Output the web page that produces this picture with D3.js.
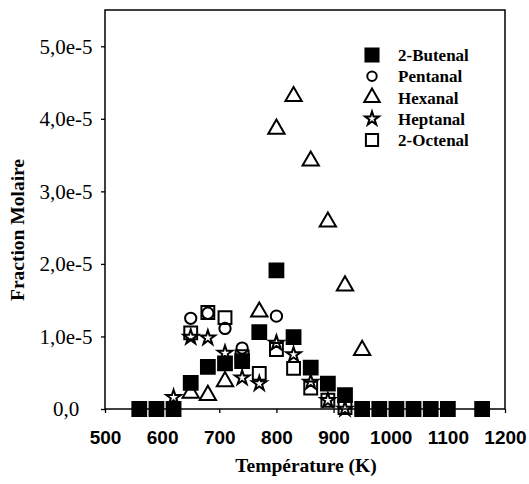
<!DOCTYPE html>
<html><head><meta charset="utf-8">
<script src="https://cdn.jsdelivr.net/npm/d3@7"></script>
<style>body{margin:0;background:#fff}</style>
</head><body>
<svg id="c" width="529" height="484"></svg>
<script>
// Data (mole fraction, x1e-5)
const butenalT = [560,590,620,650,680,710,740,770,800,830,860,890,920,950,980,1010,1040,1070,1100,1160];
const butenalV = [0,0,0,0.36,0.58,0.63,0.66,1.06,1.91,0.99,0.57,0.35,0.19,0,0,0,0,0,0,0];
const pentanalT = [650,680,710,740,800];
const pentanalV = [1.25,1.32,1.11,0.84,1.28];
const hexanalT = [650,680,710,770,800,830,860,890,920,950];
const hexanalV = [0.22,0.19,0.38,1.34,3.86,4.31,3.42,2.58,1.70,0.81];
const heptanalT = [620,650,680,710,740,770,800,830,860,890,920];
const heptanalV = [0.16,0.99,0.98,0.77,0.43,0.35,0.91,0.75,0.37,0.12,0.0];
const octenalT = [650,680,710,740,770,800,830,860,890,920];
const octenalV = [1.05,1.33,1.26,0.72,0.49,0.82,0.56,0.29,0.12,0.02];
const seriesNames = ["2-Butenal","Pentanal","Hexanal","Heptanal","2-Octenal"];
const xTicks = [500,600,700,800,900,1000,1100,1200];
const yTicks = [0,1,2,3,4,5];
const yTickLabels = ["0,0","1,0e-5","2,0e-5","3,0e-5","4,0e-5","5,0e-5"];

const svg = d3.select("#c");
const L=105, R=505, T=10, B=409;
const x = d3.scaleLinear().domain([500,1200]).range([L,R]);
const y = d3.scaleLinear().domain([0,5.5]).range([B,T]);

svg.append("rect").attr("x",L).attr("y",T).attr("width",R-L).attr("height",B-T)
  .attr("fill","none").attr("stroke","#000").attr("stroke-width",1.5);

const xAxis = svg.append("g").attr("transform",`translate(0,${B})`)
  .call(d3.axisBottom(x).tickValues(xTicks).tickSize(4).tickPadding(18).tickFormat(d3.format("d")));
xAxis.select(".domain").remove();
xAxis.selectAll("line").attr("stroke-width",1.3);
xAxis.selectAll("text").attr("font-family","Liberation Sans, Arial, sans-serif")
  .attr("font-weight","bold").attr("font-size",19).attr("fill","#000");

const yAxis = svg.append("g").attr("transform",`translate(${L},0)`)
  .call(d3.axisLeft(y).tickValues(yTicks).tickSize(4).tickPadding(7).tickFormat((d,i)=>yTickLabels[i]));
yAxis.select(".domain").remove();
yAxis.selectAll("line").attr("stroke-width",1.3);
yAxis.selectAll("text").attr("font-family","Liberation Serif, Times New Roman, serif")
  .attr("font-size",21).attr("fill","#000")
  .attr("text-anchor","middle").attr("x",66-L);

svg.append("text").attr("x",306).attr("y",472).attr("text-anchor","middle")
  .attr("font-family","Liberation Serif, Times New Roman, serif").attr("font-weight","bold")
  .attr("font-size",19.5).text("Température (K)");
svg.append("text").attr("transform","translate(24,230) rotate(-90)").attr("text-anchor","middle")
  .attr("font-family","Liberation Serif, Times New Roman, serif").attr("font-weight","bold")
  .attr("font-size",19.5).text("Fraction Molaire");

const styles = [
  {type:d3.symbolSquare,size:190,fill:"#000"},
  {type:d3.symbolCircle,size:100,fill:"none"},
  {type:d3.symbolTriangle,size:115,fill:"none"},
  {type:d3.symbolStar,size:65,fill:"none"},
  {type:d3.symbolSquare,size:165,fill:"none"}
];
const data = [[butenalT,butenalV],[pentanalT,pentanalV],[hexanalT,hexanalV],[heptanalT,heptanalV],[octenalT,octenalV]];

data.forEach(([ts,vs],k)=>{
  const st = styles[k];
  const pts = ts.map((t,i)=>({t,v:vs[i]}));
  svg.append("g").selectAll("path").data(pts).join("path")
    .attr("transform",d=>`translate(${x(d.t)},${y(d.v)})`)
    .attr("d",d3.symbol().type(st.type).size(st.size))
    .attr("fill",st.fill).attr("stroke","#000").attr("stroke-width",2)
    .attr("stroke-linejoin","miter");
});

const lg = svg.append("g");
seriesNames.forEach((n,i)=>{
  const yy = 55 + i*21.25;
  const st = styles[i];
  lg.append("path").attr("transform",`translate(372,${yy})`)
    .attr("d",d3.symbol().type(st.type).size(st.size*(i===1?0.7:0.9)))
    .attr("fill",st.fill).attr("stroke","#000").attr("stroke-width",2);
  lg.append("text").attr("x",398).attr("y",yy+6)
    .attr("font-family","Liberation Serif, Times New Roman, serif").attr("font-weight","bold")
    .attr("font-size",17).text(n);
});
</script>
</body></html>
